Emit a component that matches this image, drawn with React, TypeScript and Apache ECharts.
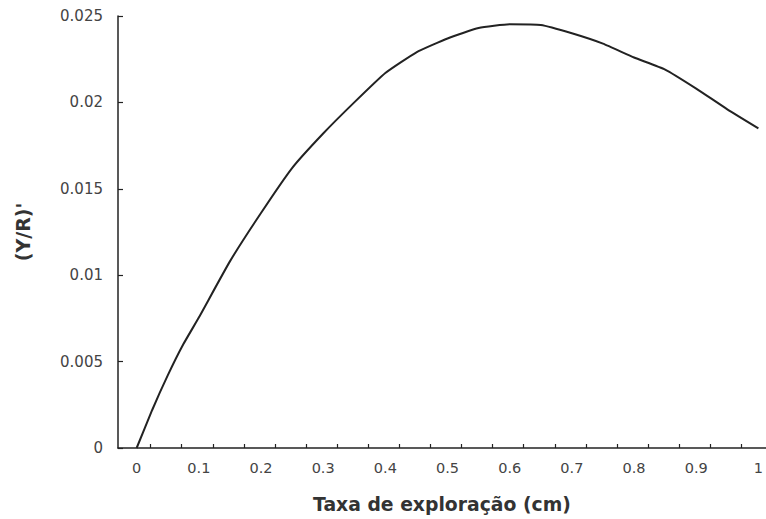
import React, { useEffect, useRef } from "react";
import * as echarts from "echarts";

const xValues = [0, 0.025, 0.05, 0.075, 0.1, 0.15, 0.2, 0.25, 0.3, 0.35, 0.4, 0.45, 0.5, 0.55, 0.6, 0.65, 0.7, 0.75, 0.8, 0.85, 0.9, 0.95, 1.0];
const yValues = [0, 0.0022, 0.0042, 0.006, 0.00755, 0.0108, 0.0136, 0.0162, 0.0182, 0.02, 0.0217, 0.0229, 0.0237, 0.0243, 0.02452, 0.02448, 0.0240, 0.0234, 0.0226, 0.0219, 0.0208, 0.0196, 0.0185];
const xLabelValues = [0, 0.1, 0.2, 0.3, 0.4, 0.5, 0.6, 0.7, 0.8, 0.9, 1];
const xTickValues = [0.0225, 0.0725, 0.1225, 0.1725, 0.2225, 0.2725, 0.3225, 0.3725, 0.4225, 0.4725, 0.5225, 0.5725, 0.6225, 0.6725, 0.7225, 0.7725, 0.8225, 0.8725, 0.9225, 0.9725];
const yTicks = [0, 0.005, 0.01, 0.015, 0.02, 0.025];
const xTitle = "Taxa de exploração (cm)";
const yTitle = "(Y/R)'";

export default function App() {
  const ref = useRef<HTMLDivElement>(null);
  useEffect(() => {
    if (!ref.current) return;
    const chart = echarts.init(ref.current, undefined, { renderer: "svg" });
    const font = "DejaVu Sans";
    chart.setOption({
      animation: false,
      backgroundColor: "#ffffff",
      grid: { left: 118, top: 16, width: 649, height: 434, containLabel: false },
      xAxis: {
        type: "value",
        min: -0.03,
        max: 1.012,
        name: xTitle,
        nameLocation: "middle",
        nameGap: 47,
        nameTextStyle: { fontFamily: font, fontSize: 18.8, fontWeight: "bold", color: "#333" },
        axisLine: { show: true, onZero: false, lineStyle: { color: "#222", width: 1.5 } },
        axisTick: { show: true, inside: true, length: 4, customValues: xTickValues, lineStyle: { color: "#222", width: 1.2 } },
        axisLabel: { customValues: xLabelValues, margin: 12, fontFamily: font, fontSize: 14.5, color: "#444", showMinLabel: true, showMaxLabel: true },
        splitLine: { show: false },
      },
      yAxis: {
        type: "value",
        min: 0,
        max: 0.025,
        interval: 0.005,
        name: yTitle,
        nameLocation: "middle",
        nameGap: 86,
        nameRotate: 90,
        nameTextStyle: { fontFamily: font, fontSize: 19, fontWeight: "bold", color: "#333" },
        axisLine: { show: true, onZero: false, lineStyle: { color: "#222", width: 1.5 } },
        axisTick: { show: true, inside: true, length: 5, lineStyle: { color: "#222", width: 1.2 } },
        axisLabel: {
          margin: 15,
          fontFamily: font,
          fontSize: 15,
          color: "#444",
          formatter: (v: number) => {
            const found = yTicks.find((t) => Math.abs(t - v) < 1e-9);
            return found === undefined ? "" : String(found);
          },
        },
        splitLine: { show: false },
      },
      series: [
        {
          type: "line",
          data: xValues.map((x, i) => [x, yValues[i]]),
          showSymbol: false,
          smooth: 0.15,
          lineStyle: { color: "#222", width: 2 },
        },
      ],
    });
    return () => chart.dispose();
  }, []);
  return (
    <div
      ref={ref}
      style={{ position: "absolute", left: 0, top: 0, width: 766, height: 519, background: "#fff" }}
    />
  );
}
